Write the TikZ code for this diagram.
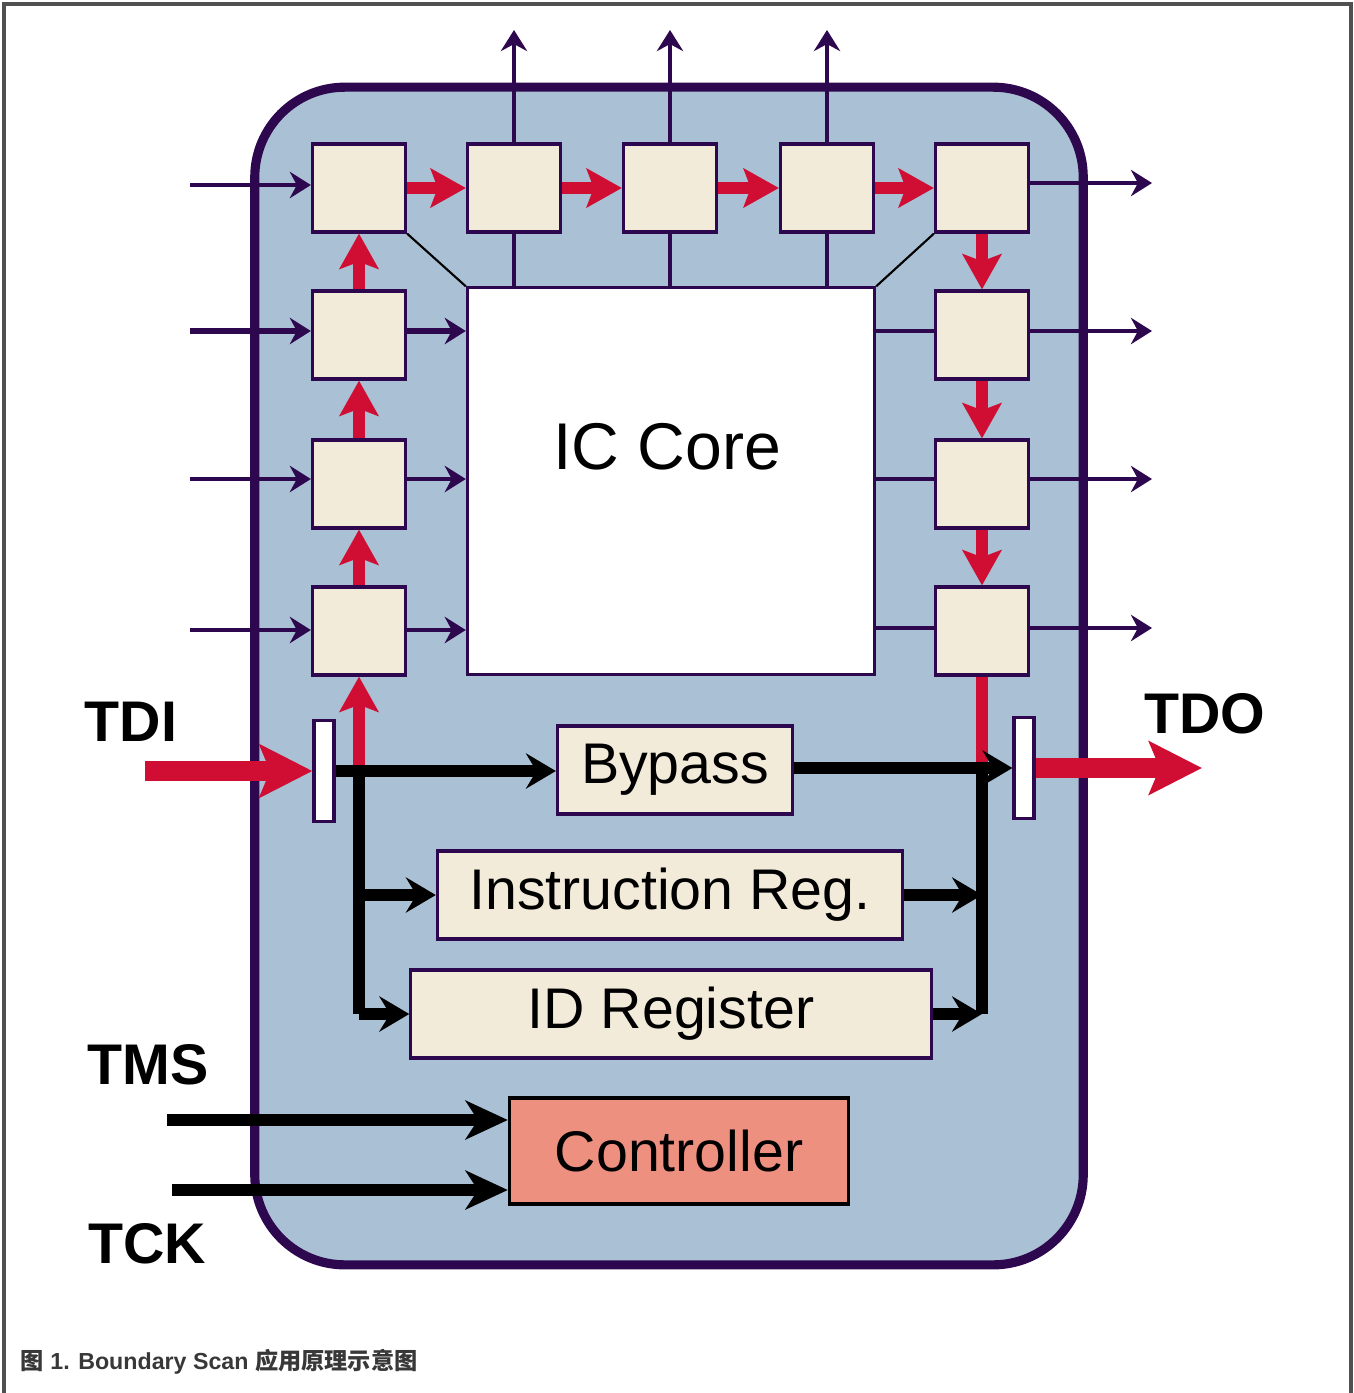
\documentclass[tikz,border=0pt]{standalone}
\usepackage{fontspec}
\setmainfont{Liberation Sans}
\newfontfamily\cjk{Noto Sans CJK SC}
\usetikzlibrary{arrows.meta}
\definecolor{chipPurple}{RGB}{46,8,78}
\definecolor{chipBlue}{RGB}{170,192,212}
\definecolor{cellBeige}{RGB}{243,235,218}
\definecolor{scanRed}{RGB}{208,14,52}
\definecolor{ctrlSalmon}{RGB}{238,144,128}
\definecolor{frameGray}{RGB}{80,80,80}

\begin{document}
\begin{tikzpicture}[x=0.01cm,y=-0.01cm,
  cell/.style={draw=chipPurple,fill=cellBeige,line width=0.9pt,minimum width=0.93cm,minimum height=0.88cm,inner sep=0pt},
  reg/.style={draw=chipPurple,fill=cellBeige,line width=0.9pt,minimum height=0.88cm,inner sep=0pt,font=\fontsize{16.3}{19}\selectfont},
  pin/.style={draw=chipPurple,fill=white,line width=0.9pt,minimum width=0.2cm,minimum height=1.01cm,inner sep=0pt},
  pinlabel/.style={font=\fontsize{16.3}{19}\selectfont\bfseries},
  ioLine/.style={draw=chipPurple,line width=1pt},
  ioArrow/.style={ioLine,-{Stealth[length=6pt,width=7.5pt,inset=2pt]}},
  scanLine/.style={draw=scanRed,line width=3.4pt},
  scanArrow/.style={scanLine,-{Stealth[length=10pt,width=11pt,inset=2pt]}},
  pinArrow/.style={draw=scanRed,line width=5.5pt,-{Stealth[length=15pt,width=15pt,inset=3pt]}},
  bus/.style={draw=black,line width=3.4pt},
  busArrow/.style={bus,-{Stealth[length=8.5pt,width=10pt,inset=3pt]}},
  ctlArrow/.style={bus,-{Stealth[length=12pt,width=11pt,inset=3.5pt]}}
]
\useasboundingbox (0,0) rectangle (1354,1393);
\draw[frameGray,line width=0.9pt] (4,1393) -- (4,4) -- (1351,4) -- (1351,1393);

% chip body and core
\node[draw=chipPurple,fill=chipBlue,line width=2.6pt,rounded corners=0.9cm,minimum width=8.28cm,minimum height=11.77cm] (chip) at (669,676) {};
\node[draw=chipPurple,fill=white,line width=0.9pt,minimum width=4.07cm,minimum height=3.86cm] (core) at (671,481) {};
\node[font=\fontsize{18.8}{22}\selectfont] (coretext) at (667,447) {IC Core};

% boundary cells
\foreach \x [count=\i] in {359,514,670,827,982}
  \node[cell] (c\i) at (\x,188) {};
\foreach \y [count=\i from 2] in {335,484,631} {
  \node[cell] (l\i) at (359,\y) {};
  \node[cell] (r\i) at (982,\y) {};
}

% pins and registers
\node[pin] (tdi) at (324,771) {};
\node[pin] (tdo) at (1024,768) {};
\node[reg,minimum width=2.35cm] (bypass) at (675,770) {Bypass};
\node[reg,minimum width=4.65cm] (ir) at (670,895) {Instruction Reg.};
\node[reg,minimum width=5.2cm] (id) at (671,1014) {ID Register};
\node[draw=black,fill=ctrlSalmon,line width=0.9pt,minimum width=3.39cm,minimum height=1.06cm,font=\fontsize{16.3}{19}\selectfont] (ctrl) at (679,1151) {Controller};

\node[pinlabel] (tdiLabel) at (131,722) {TDI};
\node[pinlabel] (tdoLabel) at (1205,714) {TDO};
\node[pinlabel] (tmsLabel) at (148,1065) {TMS};
\node[pinlabel] (tckLabel) at (147,1244) {TCK};

% core wiring
\draw[black,line width=0.6pt] (c1.south east) -- (core.north west);
\draw[black,line width=0.6pt] (c5.south west) -- (core.north east);
\coordinate (topOut) at (0,30);
\foreach \n in {c2,c3,c4} {
  \draw[ioLine] (\n.south |- core.north) -- (\n.south);
  \draw[ioArrow] (\n.north) -- (\n.north |- topOut);
}
\foreach \n/\y in {c1/185,l2/331,l3/479,l4/630}
  \coordinate (in-\n) at (190,\y);
\foreach \n in {c1,l3,l4}
  \draw[ioArrow] (in-\n) -- (in-\n -| \n.west);
\draw[ioArrow,line width=1.6pt] (in-l2) -- (in-l2 -| l2.west);
\foreach \n in {l3,l4}
  \draw[ioArrow] (in-\n -| \n.east) -- (in-\n -| core.west);
\draw[ioArrow,line width=1.6pt] (in-l2 -| l2.east) -- (in-l2 -| core.west);
\foreach \n/\y in {c5/183,r2/331,r3/479,r4/628}
  \coordinate (out-\n) at (1152,\y);
\foreach \n in {r2,r3,r4}
  \draw[ioLine] (out-\n -| core.east) -- (out-\n -| \n.west);
\foreach \n in {c5,r2,r3,r4}
  \draw[ioArrow] (out-\n -| \n.east) -- (out-\n);

% scan chain
\foreach \i/\j in {1/2,2/3,3/4,4/5}
  \draw[scanArrow] (c\i.east) -- (c\j.west);
\draw[scanArrow] (l2.north) -- (c1.south);
\draw[scanArrow] (l3.north) -- (l2.south);
\draw[scanArrow] (l4.north) -- (l3.south);
\draw[scanArrow] (c5.south) -- (r2.north);
\draw[scanArrow] (r2.south) -- (r3.north);
\draw[scanArrow] (r3.south) -- (r4.north);

\coordinate (j1) at (tdi.east -| l4.south);
\coordinate (j2) at (r4.south |- tdo.west);
\draw[scanArrow] (j1) -- (l4.south);
\draw[scanLine] (r4.south) -- (j2);

% data register bus
\draw[busArrow] (tdi.east) -- (tdi.east -| bypass.west);
\draw[bus] (j1) -- (j1 |- id.west);
\draw[busArrow] (j1 |- ir.west) -- (ir.west);
\draw[busArrow] (j1 |- id.west) -- (id.west);
\draw[busArrow] (bypass.east |- tdo.west) -- (tdo.west);
\draw[bus] (j2) -- (j2 |- id.east);
\draw[busArrow] (ir.east) -- (ir.east -| j2);
\draw[busArrow] (id.east) -- (id.east -| j2);

% pins
\coordinate (tdiIn) at (145,771);
\coordinate (tdoOut) at (1202,768);
\draw[pinArrow] (tdiIn) -- (tdi.west);
\draw[pinArrow] (tdo.east) -- (tdoOut);
\coordinate (tmsIn) at (167,1120);
\coordinate (tckIn) at (172,1190);
\draw[ctlArrow] (tmsIn) -- (tmsIn -| ctrl.west);
\draw[ctlArrow] (tckIn) -- (tckIn -| ctrl.west);

\node[anchor=west,inner sep=0pt,text=frameGray!70!black,font=\fontsize{6.6}{8}\selectfont\bfseries] (caption) at (20,1362) {{\cjk 图} 1. Boundary Scan {\cjk 应用原理示意图}};
\end{tikzpicture}
\end{document}
